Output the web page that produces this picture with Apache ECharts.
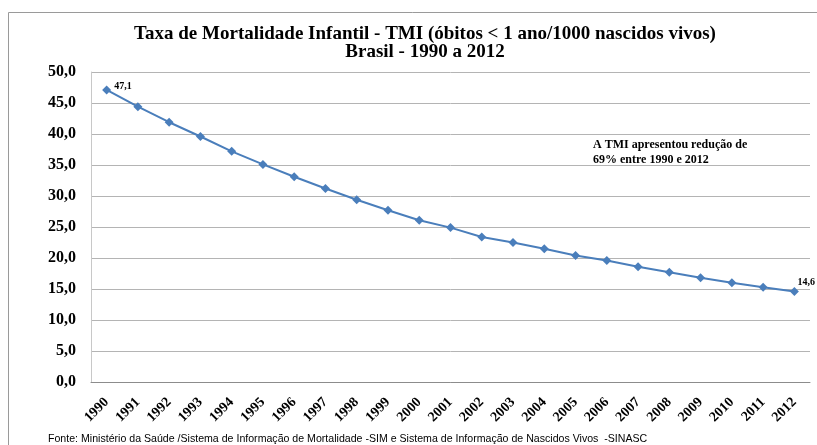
<!DOCTYPE html>
<html>
<head>
<meta charset="utf-8">
<script src="https://cdn.jsdelivr.net/npm/echarts@6/dist/echarts.min.js"></script>
<style>
  html, body { margin: 0; padding: 0; background: #fff; }
  #chart { width: 817px; height: 445px; }
</style>
</head>
<body>
<div id="chart"></div>
<script>
// anos e taxa de mortalidade infantil (por 1000 nascidos vivos)
const anos = ['1990','1991','1992','1993','1994','1995','1996','1997','1998','1999','2000','2001',
  '2002','2003','2004','2005','2006','2007','2008','2009','2010','2011','2012'];
const tmi = [47.1, 44.4, 41.9, 39.6, 37.2, 35.1, 33.1, 31.2, 29.4, 27.7, 26.1, 24.9,
  23.4, 22.5, 21.5, 20.4, 19.6, 18.6, 17.7, 16.8, 16.0, 15.3, 14.6];
const yTicks = { min: 0, max: 50, step: 5 };

const serif = '"Liberation Serif", "DejaVu Serif", serif';
const virgula = v => v.toFixed(1).replace('.', ',');

const chart = echarts.init(document.getElementById('chart'));

chart.setOption({
  animation: false,
  backgroundColor: '#fff',
  title: {
    text: 'Taxa de Mortalidade Infantil - TMI (óbitos < 1 ano/1000 nascidos vivos)\nBrasil - 1990 a 2012',
    left: 420,
    textAlign: 'center',
    top: 20,
    textStyle: { fontFamily: serif, fontWeight: 'bold', fontSize: 19, lineHeight: 18, color: '#000' }
  },
  grid: { left: 91, right: 7, top: 72, bottom: 63 },
  xAxis: {
    type: 'category',
    data: anos,
    boundaryGap: true,
    axisLine: { lineStyle: { color: '#8c8c8c', width: 1 } },
    axisTick: { show: false },
    axisLabel: {
      rotate: 45, margin: 18, interval: 0,
      fontFamily: serif, fontWeight: 'bold', fontSize: 14, color: '#000'
    }
  },
  yAxis: {
    type: 'value',
    min: yTicks.min, max: yTicks.max, interval: yTicks.step,
    axisLine: { show: true, lineStyle: { color: '#c8c8c8' } },
    axisTick: { show: false },
    splitLine: { lineStyle: { color: '#b4b4b4', width: 1 } },
    axisLabel: {
      margin: 15,
      formatter: v => virgula(v),
      fontFamily: serif, fontWeight: 'bold', fontSize: 16, color: '#000'
    }
  },
  series: [{
    type: 'line',
    data: tmi.map((v, i) => {
      if (i === 0) {
        return { value: v, label: { show: true, position: 'right', offset: [-2, -4] } };
      }
      if (i === tmi.length - 1) {
        return { value: v, label: { show: true, position: 'top', offset: [12, 5] } };
      }
      return v;
    }),
    symbol: 'diamond',
    symbolSize: 9,
    lineStyle: { color: '#4a7ebb', width: 2 },
    itemStyle: { color: '#4a7ebb' },
    label: {
      show: false,
      formatter: p => virgula(p.value),
      fontFamily: serif, fontWeight: 'bold', fontSize: 10, color: '#000'
    }
  }],
  graphic: [
    {
      type: 'polyline',
      shape: { points: [[817, 12.5], [8.5, 12.5], [8.5, 445]] },
      style: { stroke: '#9a9a9a', lineWidth: 1, fill: null }
    },
    {
      type: 'text',
      left: 593, top: 137,
      style: {
        text: 'A TMI apresentou redução de\n69% entre 1990 e 2012',
        font: 'bold 12px ' + serif,
        lineHeight: 15,
        fill: '#000'
      }
    },
    {
      type: 'text',
      left: 48, top: 434,
      style: {
        text: 'Fonte: Ministério da Saúde /Sistema de Informação de Mortalidade -SIM e Sistema de Informação de Nascidos Vivos  -SINASC',
        font: '10.6px "Liberation Sans", "DejaVu Sans", sans-serif',
        fill: '#000'
      }
    }
  ]
});
</script>
</body>
</html>
